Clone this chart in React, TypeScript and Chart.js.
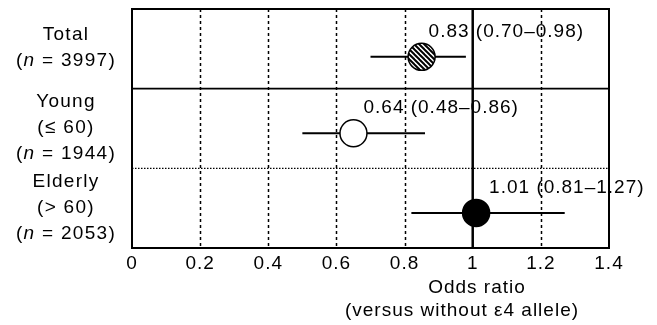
import React, { useEffect, useRef } from 'react';
import { Chart, registerables } from 'chart.js';

Chart.register(...registerables);

// ---- data ----
const groups = ['Total', 'Young', 'Elderly'];
const groupSub = ['', '(≤ 60)', '(> 60)'];
const groupN = ['3997', '1944', '2053'];
const oddsRatio = [0.85, 0.65, 1.01];
const ciLow = [0.70, 0.50, 0.82];
const ciHigh = [0.98, 0.86, 1.27];
const estimateLabels = ['0.83 (0.70–0.98)', '0.64 (0.48–0.86)', '1.01 (0.81–1.27)'];
const xTicks = [0, 0.2, 0.4, 0.6, 0.8, 1, 1.2, 1.4];
const xTitle = ['Odds ratio', '(versus without ε4 allele)'];

const FONT = "'Liberation Sans', Arial, Helvetica, sans-serif";
const FS = 19;
const LS = '1px';
const ROW_OFFSET = [0.6, 0.56, 0.56];

function makeHatch(): CanvasPattern | string {
  const s = 5;
  const c = document.createElement('canvas');
  c.width = s;
  c.height = s;
  const g = c.getContext('2d');
  if (!g) return '#888';
  g.fillStyle = '#fff';
  g.fillRect(0, 0, s, s);
  g.strokeStyle = '#000';
  g.lineWidth = 2;
  for (const k of [-s, 0, s]) {
    g.beginPath();
    g.moveTo(k - 1, -1);
    g.lineTo(k + s + 1, s + 1);
    g.stroke();
  }
  const p = g.createPattern(c, 'repeat');
  return p || '#888';
}

type Part = { t: string; i?: boolean };

function drawParts(ctx: CanvasRenderingContext2D, parts: Part[], cx: number, baseline: number) {
  let total = 0;
  const widths: number[] = [];
  for (const p of parts) {
    ctx.font = `${p.i ? 'italic ' : ''}${FS}px ${FONT}`;
    const w = ctx.measureText(p.t).width;
    widths.push(w);
    total += w;
  }
  let x = cx - total / 2;
  parts.forEach((p, k) => {
    ctx.font = `${p.i ? 'italic ' : ''}${FS}px ${FONT}`;
    ctx.fillText(p.t, x, baseline);
    x += widths[k];
  });
}

const forestPlugin = {
  id: 'forest',
  beforeDraw(chart: any) {
    (chart.ctx as any).letterSpacing = LS;
  },
  beforeDatasetsDraw(chart: any) {
    const { ctx, chartArea } = chart;
    const xs = chart.scales.x;
    const ys = chart.scales.y;
    const { left, right, top, bottom } = chartArea;
    ctx.save();
    ctx.strokeStyle = '#000';
    // dashed vertical grid
    ctx.lineWidth = 1.5;
    ctx.setLineDash([3, 3]);
    xTicks.forEach((v) => {
      if (v === 0 || v === 1 || v === 1.4) return;
      const px = Math.round(xs.getPixelForValue(v)) + 0.5;
      ctx.beginPath();
      ctx.moveTo(px, top);
      ctx.lineTo(px, bottom);
      ctx.stroke();
    });
    // row separators
    ctx.setLineDash([]);
    ctx.lineWidth = 1.6;
    let py = ys.getPixelForValue(1);
    ctx.beginPath();
    ctx.moveTo(left, py);
    ctx.lineTo(right, py);
    ctx.stroke();
    ctx.setLineDash([1.5, 1.5]);
    ctx.lineWidth = 1.2;
    py = ys.getPixelForValue(2);
    ctx.beginPath();
    ctx.moveTo(left, py);
    ctx.lineTo(right, py);
    ctx.stroke();
    // reference line at 1
    ctx.setLineDash([]);
    ctx.lineWidth = 2.5;
    const p1 = xs.getPixelForValue(1);
    ctx.beginPath();
    ctx.moveTo(p1, top);
    ctx.lineTo(p1, bottom);
    ctx.stroke();
    // frame
    ctx.lineWidth = 2;
    ctx.strokeRect(left, top, right - left, bottom - top);
    // error bars
    ctx.lineWidth = 2;
    groups.forEach((_, i) => {
      const y = ys.getPixelForValue(i + ROW_OFFSET[i]);
      ctx.beginPath();
      ctx.moveTo(xs.getPixelForValue(ciLow[i]), y);
      ctx.lineTo(xs.getPixelForValue(ciHigh[i]), y);
      ctx.stroke();
    });
    ctx.restore();
  },
  afterDraw(chart: any) {
    const { ctx, chartArea } = chart;
    const xs = chart.scales.x;
    const ys = chart.scales.y;
    ctx.save();
    (ctx as any).letterSpacing = LS;
    ctx.fillStyle = '#000';
    ctx.textBaseline = 'alphabetic';
    ctx.textAlign = 'left';
    // estimate labels
    const lblDx = [7, 10, 13];
    groups.forEach((_, i) => {
      ctx.font = `${FS}px ${FONT}`;
      const px = xs.getPixelForValue(oddsRatio[i]) + lblDx[i];
      const py = ys.getPixelForValue(i + ROW_OFFSET[i]) - 20;
      ctx.fillText(estimateLabels[i], px, py);
    });
    // group labels on the left
    const cx = 66;
    (ctx as any).letterSpacing = '1.3px';
    groups.forEach((g, i) => {
      const lines: Part[][] = [[{ t: g }]];
      if (groupSub[i]) lines.push([{ t: groupSub[i] }]);
      lines.push([{ t: '(' }, { t: 'n', i: true }, { t: ' = ' + groupN[i] + ')' }]);
      const center = ys.getPixelForValue(i + 0.5);
      const L = lines.length;
      lines.forEach((ln, k) => {
        const base = center + 4.5 + 26 * (k - (L - 1) / 2);
        drawParts(ctx, ln, cx, base);
      });
    });
    // axis title
    (ctx as any).letterSpacing = LS;
    ctx.font = `${FS}px ${FONT}`;
    ctx.textAlign = 'center';
    ctx.fillText(xTitle[0], 477, chartArea.bottom + 45);
    ctx.fillText(xTitle[1], 462, chartArea.bottom + 68);
    ctx.restore();
  },
};

export default function App() {
  const ref = useRef<HTMLCanvasElement | null>(null);
  useEffect(() => {
    document.body.style.margin = '0';
    const canvas = ref.current;
    if (!canvas) return;
    const hatch = makeHatch();
    const chart = new Chart(canvas, {
      type: 'scatter',
      data: {
        datasets: [
          {
            data: oddsRatio.map((v, i) => ({ x: v, y: i + ROW_OFFSET[i] })),
            backgroundColor: [hatch as any, '#ffffff', '#000000'],
            borderColor: '#000',
            borderWidth: 1.5,
            pointRadius: 13.5,
            pointHoverRadius: 13.5,
          },
        ],
      },
      options: {
        animation: false,
        responsive: true,
        maintainAspectRatio: false,
        events: [],
        layout: { autoPadding: false, padding: { left: 132, right: 48, top: 9, bottom: 0 } },
        plugins: {
          legend: { display: false },
          tooltip: { enabled: false },
          title: { display: false },
        },
        scales: {
          x: {
            type: 'linear',
            min: 0,
            max: 1.4,
            afterBuildTicks: (scale: any) => {
              scale.ticks = xTicks.map((v) => ({ value: v }));
            },
            afterFit: (scale: any) => {
              scale.height = 77;
            },
            grid: { display: false, drawTicks: false },
            border: { display: false },
            ticks: {
              padding: 4,
              color: '#000',
              font: { family: FONT, size: FS },
              maxRotation: 0,
              autoSkip: false,
              callback: (v: any) => String(Math.round(Number(v) * 10) / 10),
            },
          },
          y: {
            type: 'linear',
            min: 0,
            max: 3,
            reverse: true,
            display: false,
          },
        },
      },
      plugins: [forestPlugin],
    });
    return () => chart.destroy();
  }, []);
  return (
    <div style={{ position: 'relative', width: 657, height: 325, background: '#fff' }}>
      <canvas ref={ref} />
    </div>
  );
}
